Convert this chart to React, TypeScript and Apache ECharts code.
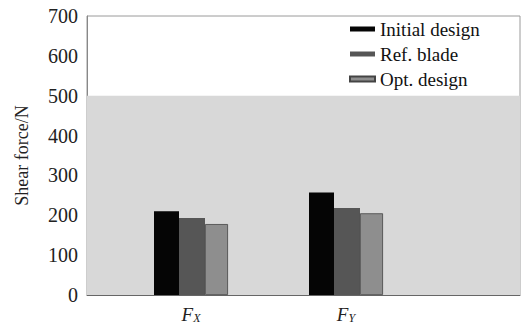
import React, { useEffect, useRef } from "react";
import * as echarts from "echarts";

const categories = ["X", "Y"];
const initialDesign = [210, 257];
const refBlade = [193, 218];
const optDesign = [178, 205];
const yTicks = { min: 0, max: 700, interval: 100 };
const shadedBand = [0, 500];

export default function App() {
  const ref = useRef<HTMLDivElement>(null);
  useEffect(() => {
    if (!ref.current) return;
    const chart = echarts.init(ref.current, null, { renderer: "svg" });
    const font = "'Liberation Serif', 'DejaVu Serif', serif";
    chart.setOption({
      animation: false,
      textStyle: { fontFamily: font },
      grid: [
        { left: 87, right: 2, top: 16, bottom: 31, show: true, borderColor: "#9a9a9a", borderWidth: 1, backgroundColor: "#ffffff" },
        { left: 113.5, width: 310, top: 16, bottom: 31 },
      ],
      xAxis: [
        {
          gridIndex: 0, type: "value", min: 0, max: 1,
          axisLine: { show: true, onZero: false, lineStyle: { color: "#666", width: 1 } },
          axisTick: { show: false }, axisLabel: { show: false }, splitLine: { show: false },
        },
        {
          gridIndex: 1, type: "category", data: categories,
          axisLine: { show: false }, axisTick: { show: false }, splitLine: { show: false },
          axisLabel: {
            margin: 9,
            formatter: (v: string) => `{i|F}{s|${v}}`,
            rich: {
              i: { fontFamily: font, fontStyle: "italic", fontSize: 19, color: "#222" },
              s: { fontFamily: font, fontStyle: "italic", fontSize: 12, color: "#222", verticalAlign: "bottom", padding: [8, 0, 0, 0] },
            },
          },
        },
      ],
      yAxis: [
        {
          gridIndex: 0, type: "value", min: yTicks.min, max: yTicks.max, interval: yTicks.interval,
          name: "Shear force/N", nameLocation: "middle", nameRotate: 90, nameGap: 56,
          nameTextStyle: { fontFamily: font, fontSize: 18, color: "#222" },
          axisLine: { show: true, lineStyle: { color: "#888" } },
          axisTick: { show: false }, splitLine: { show: false },
          axisLabel: { fontFamily: font, fontSize: 20, color: "#222", margin: 9 },
        },
        {
          gridIndex: 1, type: "value", min: yTicks.min, max: yTicks.max, interval: yTicks.interval,
          show: false,
        },
      ],
      legend: {
        orient: "vertical",
        left: 344, top: 14,
        icon: "rect",
        itemWidth: 25, itemHeight: 5, itemGap: 5,
        textStyle: { fontFamily: font, fontSize: 19, color: "#111", lineHeight: 20 },
        data: ["Initial design", "Ref. blade", "Opt. design"],
      },
      series: [
        {
          type: "line", xAxisIndex: 0, yAxisIndex: 0, data: [], silent: true,
          markArea: {
            silent: true,
            itemStyle: { color: "#d8d8d8" },
            data: [[{ yAxis: shadedBand[0] }, { yAxis: shadedBand[1] }]],
          },
        },
        {
          name: "Initial design", type: "bar", xAxisIndex: 1, yAxisIndex: 1,
          data: initialDesign, barWidth: 25, barGap: "0%",
          itemStyle: { color: "#050505" },
        },
        {
          name: "Ref. blade", type: "bar", xAxisIndex: 1, yAxisIndex: 1,
          data: refBlade, barWidth: 26, barGap: "0%",
          itemStyle: { color: "#565656" },
        },
        {
          name: "Opt. design", type: "bar", xAxisIndex: 1, yAxisIndex: 1,
          data: optDesign, barWidth: 23, barGap: "0%",
          itemStyle: { color: "#8e8e8e", borderColor: "#444", borderWidth: 0.8 },
        },
      ],
    });
    return () => chart.dispose();
  }, []);
  return (
    <div
      ref={ref}
      style={{ position: "fixed", left: 0, top: 0, width: 522, height: 326, background: "#fff" }}
    />
  );
}
